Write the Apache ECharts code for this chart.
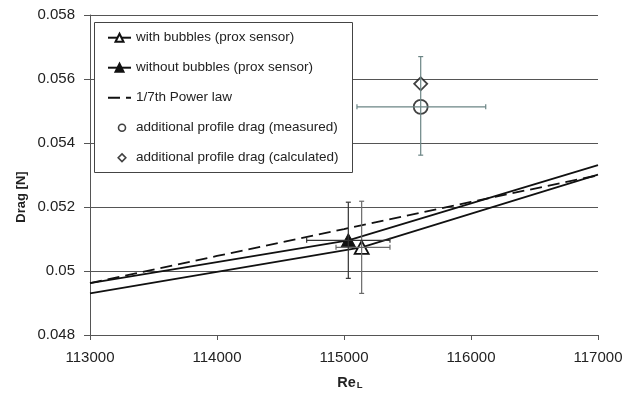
<!DOCTYPE html>
<html><head><meta charset="utf-8">
<script src="https://cdn.jsdelivr.net/npm/echarts@6/dist/echarts.min.js"></script>
<style>html,body{margin:0;padding:0;background:#fff}#c{width:633px;height:395px}</style>
</head><body><div id="c"></div>
<script>
// ---- data ----
const xTicks = [113000, 114000, 115000, 116000, 117000];
const yTicks = [0.048, 0.05, 0.052, 0.054, 0.056, 0.058];

const withRe = [113000, 115139, 117000];
const withBubbles = [0.04930, 0.05074, 0.05301];
const withMarkerIndex = 1;

const withoutRe = [113000, 115034, 117000];
const withoutBubbles = [0.04962, 0.05096, 0.05331];
const withoutMarkerIndex = 1;

const powerRe = [113000, 114000, 115000, 116000, 117000];
const powerLaw = [0.04962, 0.05047, 0.05131, 0.05216, 0.05299];

const profileRe = [115604];
const profileMeasured = [0.05513];
const profileCalculated = [0.05585];

// error bars: [x, y, xLow, xHigh, yLow, yHigh]
const errWith = [115139, 0.05074, 114937, 115362, 0.04930, 0.05218];
const errWithout = [115034, 0.05096, 114706, 115362, 0.04977, 0.05215];
const errMeasured = [115604, 0.05513, 115102, 116116, 0.05362, 0.05670];

const legendNames = ['with bubbles (prox sensor)', 'without bubbles (prox sensor)', '1/7th Power law',
  'additional profile drag (measured)', 'additional profile drag (calculated)'];

const FONT = '"Liberation Sans", Arial, Helvetica, sans-serif';
const INK = '#111';

function lineData(xs, ys, markIdx) {
  return xs.map((x, i) => i === markIdx ? { value: [x, ys[i]] } : { value: [x, ys[i]], symbol: 'none' });
}

function errRender(params, api) {
  const x = api.value(0), y = api.value(1);
  const pl = api.coord([api.value(2), y]), ph = api.coord([api.value(3), y]);
  const pb = api.coord([x, api.value(4)]), pt = api.coord([x, api.value(5)]);
  const cap = 2.5;
  const st = { stroke: api.visual('color'), lineWidth: 1.2 };
  const mk = (x1, y1, x2, y2) => ({ type: 'line', shape: { x1, y1, x2, y2 }, style: st });
  return {
    type: 'group', children: [
      mk(pl[0], pl[1], ph[0], ph[1]),
      mk(pl[0], pl[1] - cap, pl[0], pl[1] + cap),
      mk(ph[0], ph[1] - cap, ph[0], ph[1] + cap),
      mk(pb[0], pb[1], pt[0], pt[1]),
      mk(pb[0] - cap, pb[1], pb[0] + cap, pb[1]),
      mk(pt[0] - cap, pt[1], pt[0] + cap, pt[1])
    ]
  };
}

// legend icons sized inside the full 23x10 legend icon box (invisible moveTo corners fix the box)
const ICON_CIRCLE = 'path://M0,0M23,10M17.5,5A3.5,3.5,0,1,1,10.5,5A3.5,3.5,0,1,1,17.5,5Z';
const ICON_DIAMOND = 'path://M0,0M23,10M14,1.2L17.8,5L14,8.8L10.2,5Z';

const chart = echarts.init(document.getElementById('c'), null, { renderer: 'canvas' });
chart.setOption({
  animation: false,
  backgroundColor: '#fff',
  grid: { left: 90, right: 35, top: 15, bottom: 57.5, containLabel: false },
  xAxis: {
    type: 'value', min: xTicks[0], max: xTicks[xTicks.length - 1], interval: xTicks[1] - xTicks[0],
    axisLine: { show: true, lineStyle: { color: '#555', width: 1 } },
    axisTick: { show: true, length: 5, lineStyle: { color: '#555' } },
    axisLabel: { margin: 15, color: '#222', fontSize: 15, fontFamily: FONT, formatter: v => String(v) },
    splitLine: { show: false },
    name: '{a|Re}{b|L}', nameLocation: 'middle', nameGap: 37,
    nameTextStyle: {
      padding: [0, 0, 0, 12],
      rich: {
        a: { fontSize: 14.5, fontWeight: 'bold', fontFamily: FONT, color: '#222', lineHeight: 18, verticalAlign: 'bottom' },
        b: { fontSize: 9.5, fontWeight: 'bold', fontFamily: FONT, color: '#222', lineHeight: 12, verticalAlign: 'bottom', padding: [6, 0, 0, 1] }
      }
    }
  },
  yAxis: {
    type: 'value', min: yTicks[0], max: yTicks[yTicks.length - 1], interval: 0.002,
    axisLine: { show: true, lineStyle: { color: '#555', width: 1 } },
    axisTick: { show: true, length: 6, lineStyle: { color: '#555' } },
    axisLabel: { margin: 15, color: '#222', fontSize: 15, fontFamily: FONT, formatter: v => String(parseFloat(v.toFixed(3))) },
    splitLine: { show: true, lineStyle: { color: '#555', width: 1 } }
  },
  graphic: [
    { type: 'rect', z: 3, shape: { x: 94.5, y: 22.5, width: 258, height: 150 }, style: { fill: '#fff', stroke: '#444', lineWidth: 1 } },
    { type: 'text', z: 3, x: 21, y: 197, rotation: Math.PI / 2,
      style: { text: 'Drag [N]', font: 'bold 13px ' + FONT, fill: '#222', align: 'center', verticalAlign: 'middle' } }
  ],
  legend: {
    orient: 'vertical', left: 107, top: 29.7, padding: 0, itemGap: 14,
    itemWidth: 23, itemHeight: 10, z: 5,
    textStyle: { fontSize: 13.5, fontFamily: FONT, color: '#222', lineHeight: 16 },
    data: [
      { name: legendNames[0] },
      { name: legendNames[1] },
      { name: legendNames[2], itemStyle: { opacity: 0 } },
      { name: legendNames[3], icon: ICON_CIRCLE, itemStyle: { borderWidth: 1.6 } },
      { name: legendNames[4], icon: ICON_DIAMOND, itemStyle: { borderWidth: 1.6 } }
    ]
  },
  series: [
    {
      name: legendNames[0], type: 'line', z: 2, symbol: 'triangle', symbolSize: [14, 13], showAllSymbol: true,
      itemStyle: { color: '#fff', borderColor: INK, borderWidth: 1.8 },
      lineStyle: { color: INK, width: 1.8 },
      data: lineData(withRe, withBubbles, withMarkerIndex)
    },
    {
      name: legendNames[1], type: 'line', z: 2, symbol: 'triangle', symbolSize: [14, 13], showAllSymbol: true,
      itemStyle: { color: INK, borderColor: INK, borderWidth: 1 },
      lineStyle: { color: INK, width: 1.8 },
      data: lineData(withoutRe, withoutBubbles, withoutMarkerIndex)
    },
    {
      name: legendNames[2], type: 'line', z: 2, symbol: 'none',
      itemStyle: { color: INK },
      lineStyle: { color: INK, width: 1.8, type: [12, 6] },
      data: powerRe.map((x, i) => [x, powerLaw[i]])
    },
    {
      name: legendNames[3], type: 'scatter', z: 2, symbol: 'circle', symbolSize: 14,
      itemStyle: { color: 'rgba(255,255,255,0)', borderColor: INK, borderWidth: 1.8 },
      data: profileRe.map((x, i) => [x, profileMeasured[i]])
    },
    {
      name: legendNames[4], type: 'scatter', z: 2, symbol: 'diamond', symbolSize: [13, 13],
      itemStyle: { color: '#fff', borderColor: INK, borderWidth: 1.8 },
      data: profileRe.map((x, i) => [x, profileCalculated[i]])
    },
    {
      type: 'custom', z: 3, renderItem: errRender, silent: true,
      encode: { x: [0, 2, 3], y: [1, 4, 5] },
      data: [
        { value: errWith, itemStyle: { color: '#6a6a6a' } },
        { value: errWithout, itemStyle: { color: '#333' } },
        { value: errMeasured, itemStyle: { color: '#6b8585' } }
      ]
    }
  ]
});
</script>
</body></html>
